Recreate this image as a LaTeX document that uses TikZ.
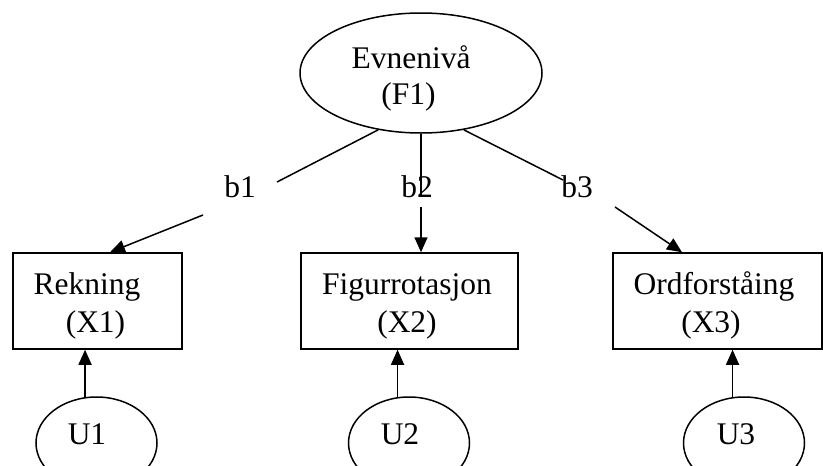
\documentclass[tikz,border=0pt]{standalone}
\usepackage{fontspec}
\setmainfont{Liberation Serif}
\usetikzlibrary{arrows.meta,shapes.geometric,calc}
\begin{document}
\begin{tikzpicture}[x=1pt,y=-1pt,
  ell/.style={draw,ellipse,line width=1.5pt,inner sep=0pt},
  obs/.style={draw,rectangle,line width=1.5pt,inner sep=0pt,minimum height=96pt},
  txt/.style={anchor=base,inner sep=0pt,font=\fontsize{31.5}{37}\selectfont},
  con/.style={line width=1.5pt},
  arr/.style={line width=1.5pt,-{Triangle[length=15pt,width=13pt]}}]
\useasboundingbox (0,0) rectangle (823,466);

% latent factor
\node[ell,minimum width=242pt,minimum height=120pt] (F1) at (421,73) {};
\node[txt] (F1a) at (411,68) {Evnenivå};
\node[txt] (F1b) at (408.5,104) {(F1)};

% observed variables
\node[obs,minimum width=169pt] (X1) at (97.5,301) {};
\node[obs,minimum width=217pt] (X2) at (409.5,301) {};
\node[obs,minimum width=209pt] (X3) at (717.5,301) {};
\node[txt] (X1a) at (87,294) {Rekning};
\node[txt] (X1b) at (95.5,332) {(X1)};
\node[txt] (X2a) at (407,294) {Figurrotasjon};
\node[txt] (X2b) at (407,332) {(X2)};
\node[txt] (X3a) at (714,294) {Ordforståing};
\node[txt] (X3b) at (711,332) {(X3)};

% unique factors
\node[ell,minimum width=121pt,minimum height=92pt] (U1) at (96.5,443) {};
\node[ell,minimum width=121pt,minimum height=92pt] (U2) at (409,443) {};
\node[ell,minimum width=121pt,minimum height=92pt] (U3) at (744,443) {};
\node[txt] (U1t) at (87,444) {U1};
\node[txt] (U2t) at (400,444) {U2};
\node[txt] (U3t) at (736,444) {U3};

% loadings (each broken round its label)
\coordinate (e1) at ($(X1.north)+(12.5,0)$);
\coordinate (e2) at (F1.south |- X2.north);
\coordinate (e3) at ($(X3.north)+(-35.5,0)$);
\coordinate (g1a) at (277,182);
\coordinate (g1b) at (203,215);
\coordinate (g2a) at (421,196);
\coordinate (g2b) at (421,207);
\coordinate (g3a) at (563,180);
\coordinate (g3b) at (615,207);
\draw[con] (F1.233) -- (g1a);
\draw[arr] (g1b) -- (e1);
\draw[con] (F1.south) -- (g2a);
\draw[arr] (g2b) -- (e2);
\draw[con] (F1.307) -- (g3a);
\draw[arr] (g3b) -- (e3);
\node[txt] (b1) at (240,197) {b1};
\node[txt] (b2) at (417,197) {b2};
\node[txt] (b3) at (577,197) {b3};

% residual arrows
\draw[arr] (U1.104) -- (U1.104 |- X1.south);
\draw[arr] (U2.104) -- (U2.104 |- X2.south);
\draw[arr] (U3.104) -- (U3.104 |- X3.south);
\end{tikzpicture}
\end{document}
